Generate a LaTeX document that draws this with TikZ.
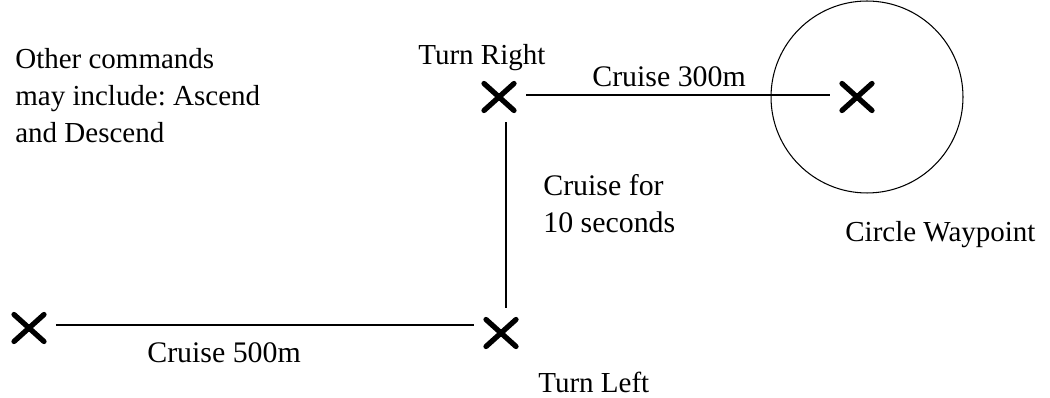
\documentclass[tikz,border=0pt]{standalone}
\usepackage{fontspec}
\setmainfont{Liberation Serif}
\frenchspacing
\usetikzlibrary{shapes.misc}
\tikzset{wpt/.style={cross out, draw, line width=3pt, line cap=round, minimum width=0.6cm, minimum height=0.54cm, inner sep=0pt, outer sep=0pt},
  leg/.style={line width=0.6pt, shorten <=0.24cm, shorten >=0.24cm},
  lbl/.style={anchor=base west, inner sep=0pt, font=\fontsize{16.5}{21.3}\selectfont, align=left},
  cruise/.style={anchor=base west, inner sep=0pt, font=\fontsize{17}{21.5}\selectfont, align=left}}

\begin{document}
\begin{tikzpicture}[x=0.02cm, y=-0.02cm]
\useasboundingbox (0,0) rectangle (1050,398);
% way points
\node[wpt] (bl) at (29,328) {};
\node[wpt] (tl) at (501,333) {};
\node[wpt] (tr) at (499,97) {};
\node[wpt] (cw) at (857,97) {};
\node[circle, draw, line width=0.6pt, minimum size=3.84cm, inner sep=0pt] (orbit) at (867,97) {};
% legs
\draw[leg] ([yshift=0.06cm]bl.east) -- ([yshift=0.06cm]bl.east -| tl.west);
\draw[leg] ([xshift=0.14cm]tr.south) -- ([xshift=0.14cm]tr.south |- tl.north);
\draw[leg] ([yshift=0.04cm]tr.east) -- ([yshift=0.04cm]tr.east -| cw.west);
% labels
\node[lbl] (tright) at (418,65) {Turn Right};
\node[lbl] (tleft) at (538,392) {Turn Left};
\node[lbl] (ctext) at (845,242) {Circle Waypoint};
\node[lbl] (other) at (15,143) {Other commands\\may include: Ascend\\and Descend};
\node[cruise] (c300) at (592,87) {Cruise 300m};
\node[cruise] (c500) at (147,362) {Cruise 500m};
\node[cruise] (c10) at (543,233) {Cruise for\\10 seconds};
\end{tikzpicture}
\end{document}
